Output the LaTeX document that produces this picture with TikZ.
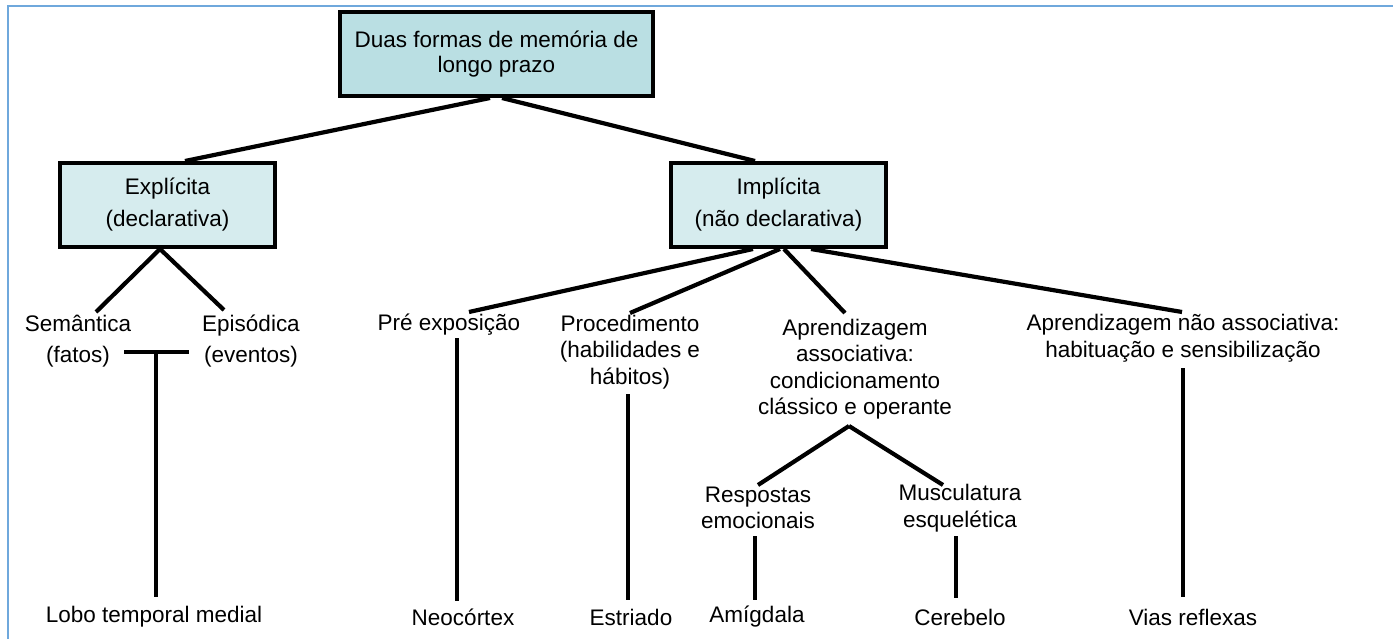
\documentclass[tikz,border=0pt]{standalone}
\usepackage{fontspec}
\setmainfont{Liberation Sans}
\definecolor{frameblue}{RGB}{111,168,220}
\definecolor{topfill}{RGB}{186,223,227}
\definecolor{boxfill}{RGB}{214,236,238}
\begin{document}
\begin{tikzpicture}[x=1pt,y=-1pt,
  box/.style={draw=black,line width=4pt,inner sep=0pt,minimum width=215pt,minimum height=84pt,fill=boxfill,align=center,font=\fontsize{22.5}{26}\selectfont},
  lbl/.style={inner sep=0pt,align=center,font=\fontsize{22.5}{26.5}\selectfont},
  conn/.style={line width=4.2pt},
  vline/.style={line width=3.2pt}]
\useasboundingbox (0,0) rectangle (1393,639);
\fill[white] (0,0) rectangle (1393,639);
\draw[frameblue,line width=2.5pt] (1393,6) -- (8,6) -- (8,639);
% boxes
\node[box,fill=topfill,minimum width=313pt] (top) at (496.5,54) {Duas formas de memória de\\[-1pt]longo prazo};
\node[box] (expl) at (167.5,205) {Explícita\\[6pt](declarativa)};
\node[box] (impl) at (778.5,205) {Implícita\\[6pt](não declarativa)};
% labels
\node[lbl] (sem) at (78,341) {Semântica\\[4pt](fatos)};
\node[lbl] (epi) at (251,341) {Episódica\\[4pt](eventos)};
\node[lbl] (pre) at (449,325) {Pré exposição};
\node[lbl] (proc) at (630,352) {Procedimento\\(habilidades e\\hábitos)};
\node[lbl] (assoc) at (855,369) {Aprendizagem\\associativa:\\condicionamento\\clássico e operante};
\node[lbl] (nassoc) at (1183,338) {Aprendizagem não associativa:\\habituação e sensibilização};
\node[lbl] (resp) at (758,508) {Respostas\\emocionais};
\node[lbl] (musc) at (960,508) {Musculatura\\esquelética};
\node[lbl] (lobo) at (154,617) {Lobo temporal medial};
\node[lbl] (neo) at (463,617) {Neocórtex};
\node[lbl] (estr) at (631,617) {Estriado};
\node[lbl] (amig) at (757,617) {Amígdala};
\node[lbl] (cereb) at (960,617) {Cerebelo};
\node[lbl] (vias) at (1193,617) {Vias reflexas};
% connector end points
\coordinate (semT) at (96,312);
\coordinate (epiT) at (224,310);
\coordinate (preT) at (469,312);
\coordinate (procT) at (630,313);
\coordinate (assocT) at (845,313);
\coordinate (nassocT) at (1182,312);
\coordinate (tL) at (124,352);
\coordinate (tR) at (189,352);
\coordinate (tM) at (156,352);
\coordinate (loboT) at (156,597);
\coordinate (neoB) at (457,338);
\coordinate (neoT) at (457,601);
\coordinate (estrB) at (628,394);
\coordinate (estrT) at (628,600);
\coordinate (assocB) at (849,426);
\coordinate (respT) at (758,485);
\coordinate (muscT) at (943,485);
\coordinate (respB) at (755,536);
\coordinate (amigT) at (755,600);
\coordinate (muscB) at (956,536);
\coordinate (cerebT) at (956,598);
\coordinate (nassocB) at (1183,368);
\coordinate (viasT) at (1183,597);
% connectors
\draw[conn] ([xshift=-6.5pt]top.south) -- ([xshift=17.5pt]expl.north);
\draw[conn] ([xshift=5.5pt]top.south) -- ([xshift=-23.5pt]impl.north);
\draw[conn] ([xshift=-7.5pt]expl.south) -- (semT);
\draw[conn] ([xshift=-7.5pt]expl.south) -- (epiT);
\draw[conn] ([xshift=-25.5pt]impl.south) -- (preT);
\draw[conn] ([xshift=1.5pt]impl.south) -- (procT);
\draw[conn] ([xshift=5.5pt]impl.south) -- (assocT);
\draw[conn] ([xshift=32.5pt]impl.south) -- (nassocT);
\draw[conn] (tL) -- (tR);
\draw[vline] (tM) -- (loboT);
\draw[vline] (neoB) -- (neoT);
\draw[vline] (estrB) -- (estrT);
\draw[conn] (assocB) -- (respT);
\draw[conn] (assocB) -- (muscT);
\draw[vline] (respB) -- (amigT);
\draw[vline] (muscB) -- (cerebT);
\draw[vline] (nassocB) -- (viasT);
\end{tikzpicture}
\end{document}
